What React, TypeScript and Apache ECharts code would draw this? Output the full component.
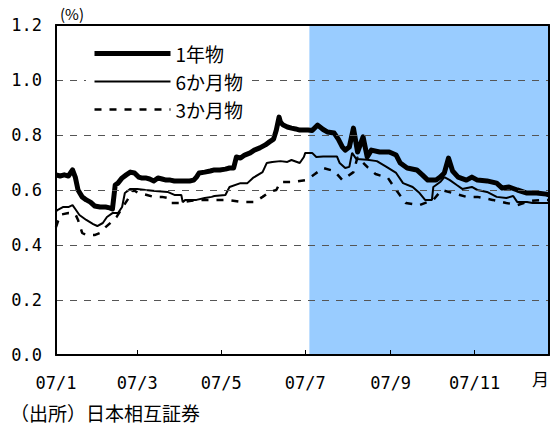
import React, { useEffect, useRef } from "react";
import * as echarts from "echarts";

// Daily categories: 2007-01-01 .. 2007-12-25
const categories: string[] = [];
for (let i = 0; i <= 358; i++) {
  const d = new Date(Date.UTC(2007, 0, 1 + i));
  categories.push(d.toISOString().slice(0, 10));
}

const seriesNames = ["1年物", "6か月物", "3か月物"];
const yTicks = [0, 0.2, 0.4, 0.6, 0.8, 1.0, 1.2];
const shadeStart = "2007-07-04";
const shadeEnd = "2007-12-25";

// [day index from Jan 1, yield %]
const oneYear: [number, number][] = [
  [0, 0.655], [3, 0.651], [6, 0.655], [9, 0.651], [12, 0.673], [14, 0.647], [16, 0.6],
  [19, 0.575], [22, 0.564], [25, 0.556], [28, 0.542], [32, 0.538], [36, 0.538], [39, 0.535],
  [41, 0.531], [43, 0.618], [45, 0.625], [48, 0.644], [51, 0.655], [54, 0.665], [57, 0.662],
  [60, 0.647], [62, 0.644], [65, 0.644], [68, 0.64], [71, 0.633], [74, 0.644], [77, 0.64],
  [80, 0.636], [83, 0.636], [86, 0.633], [90, 0.633], [94, 0.633], [97, 0.633], [100, 0.636],
  [102, 0.647], [104, 0.662], [108, 0.665], [112, 0.669], [115, 0.673], [119, 0.673],
  [123, 0.676], [126, 0.68], [129, 0.68], [131, 0.72], [134, 0.716], [137, 0.727],
  [141, 0.735], [144, 0.745], [148, 0.753], [152, 0.764], [155, 0.775], [158, 0.785],
  [160, 0.818], [162, 0.865], [163, 0.847], [165, 0.836], [168, 0.829], [171, 0.825],
  [174, 0.822], [177, 0.818], [180, 0.818], [183, 0.818], [186, 0.816], [190, 0.836],
  [194, 0.82], [197, 0.811], [202, 0.807], [205, 0.785], [208, 0.756], [210, 0.745],
  [213, 0.756], [216, 0.825], [219, 0.738], [223, 0.793], [226, 0.72], [229, 0.745],
  [235, 0.738], [242, 0.738], [247, 0.727], [250, 0.698], [255, 0.68], [262, 0.673],
  [266, 0.655], [270, 0.636], [274, 0.636], [276, 0.636], [279, 0.647], [282, 0.662],
  [285, 0.716], [288, 0.669], [292, 0.647], [298, 0.636], [302, 0.647], [306, 0.636],
  [313, 0.633], [320, 0.625], [324, 0.607], [329, 0.611], [335, 0.6], [342, 0.589],
  [349, 0.589], [356, 0.585], [358, 0.582],
];

const sixMonth: [number, number][] = [
  [0, 0.522], [1, 0.527], [5, 0.538], [9, 0.538], [12, 0.545], [14, 0.531], [17, 0.509],
  [22, 0.491], [27, 0.476], [30, 0.469], [34, 0.48], [37, 0.502], [41, 0.516], [45, 0.516],
  [48, 0.538], [50, 0.589], [54, 0.604], [59, 0.604], [65, 0.6], [72, 0.596], [81, 0.593],
  [86, 0.582], [91, 0.582], [92, 0.556], [94, 0.564], [102, 0.564], [108, 0.571],
  [113, 0.575], [115, 0.578], [123, 0.582], [126, 0.611], [134, 0.625], [139, 0.625],
  [143, 0.644], [150, 0.665], [153, 0.698], [157, 0.702], [163, 0.705], [168, 0.702],
  [171, 0.709], [177, 0.698], [180, 0.72], [181, 0.735], [186, 0.735], [189, 0.72],
  [194, 0.722], [204, 0.722], [206, 0.698], [210, 0.68], [213, 0.684], [215, 0.735],
  [218, 0.713], [226, 0.71], [233, 0.705], [240, 0.684], [247, 0.662], [252, 0.625],
  [259, 0.611], [264, 0.589], [268, 0.564], [273, 0.564], [274, 0.611], [279, 0.629],
  [282, 0.647], [286, 0.636], [291, 0.618], [295, 0.604], [302, 0.611], [306, 0.6],
  [313, 0.593], [320, 0.575], [327, 0.571], [332, 0.578], [335, 0.556], [342, 0.556],
  [346, 0.553], [358, 0.553],
];

const threeMonth: [number, number][] = [
  [0, 0.465], [3, 0.51], [9, 0.516], [14, 0.513], [16, 0.491], [19, 0.444], [22, 0.436],
  [28, 0.436], [32, 0.444], [36, 0.465], [41, 0.487], [44, 0.502], [52, 0.565], [56, 0.6],
  [60, 0.589], [66, 0.582], [71, 0.575], [77, 0.575], [81, 0.571], [83, 0.553], [90, 0.553],
  [97, 0.56], [104, 0.564], [113, 0.564], [119, 0.564], [124, 0.564], [130, 0.56],
  [135, 0.556], [139, 0.556], [144, 0.556], [150, 0.575], [155, 0.593], [160, 0.6],
  [163, 0.629], [168, 0.629], [172, 0.629], [177, 0.633], [181, 0.636], [183, 0.64],
  [188, 0.658], [194, 0.68], [202, 0.669], [208, 0.636], [216, 0.665], [219, 0.72],
  [226, 0.684], [232, 0.658], [241, 0.644], [247, 0.6], [254, 0.553], [264, 0.545],
  [274, 0.564], [280, 0.6], [288, 0.589], [298, 0.575], [306, 0.575], [317, 0.564],
  [327, 0.553], [335, 0.545], [344, 0.56], [353, 0.564], [358, 0.564],
];

const toSeries = (arr: [number, number][]) => arr.map(([d, v]) => [categories[d], v]);

const isLabelDay = (_i: number, v: string) =>
  v.endsWith("-01") && Number(v.slice(5, 7)) % 2 === 1;

const hiddenSymbol = { color: "rgba(0,0,0,0)", borderWidth: 0, opacity: 0 };

export default function App() {
  const ref = useRef<HTMLDivElement>(null);
  useEffect(() => {
    if (!ref.current) return;
    const chart = echarts.init(ref.current, undefined, { renderer: "svg" });
    const mono = "DejaVu Sans Mono";
    const jp = "Noto Sans CJK JP";
    chart.setOption({
      animation: false,
      backgroundColor: "#fff",
      grid: { left: 56, right: 3, top: 25, bottom: 77 },
      legend: {
        orient: "vertical",
        left: 86,
        top: 40,
        z: 6,
        backgroundColor: "#fff",
        padding: [4, 6, 4, 6],
        itemWidth: 76,
        itemHeight: 14,
        itemGap: 9,
        textStyle: { fontFamily: jp, fontSize: 19, color: "#000", lineHeight: 19 },
        data: [
          { name: seriesNames[0], itemStyle: hiddenSymbol, lineStyle: { width: 5, color: "#000", type: "solid" } },
          { name: seriesNames[1], itemStyle: hiddenSymbol, lineStyle: { width: 2, color: "#000", type: "solid" } },
          { name: seriesNames[2], itemStyle: hiddenSymbol, lineStyle: { width: 2.5, color: "#000", type: [7, 8] } },
        ],
      },
      xAxis: [
        {
          type: "category",
          data: categories,
          boundaryGap: false,
          z: 5,
          axisLine: { lineStyle: { color: "#000", width: 2 } },
          axisTick: { inside: true, length: 5, interval: isLabelDay, lineStyle: { color: "#000", width: 1 } },
          axisLabel: {
            interval: isLabelDay,
            margin: 19,
            fontFamily: mono,
            fontSize: 17,
            color: "#000",
            formatter: (v: string) => `${v.slice(2, 4)}/${Number(v.slice(5, 7))}`,
          },
          splitLine: { show: false },
        },
        {
          type: "value",
          position: "top",
          min: 0,
          max: 1,
          z: 5,
          axisLine: { show: true, onZero: false, lineStyle: { color: "#000", width: 2 } },
          axisTick: { show: false },
          axisLabel: { show: false },
          splitLine: { show: false },
        },
      ],
      yAxis: [
        {
          type: "value",
          min: yTicks[0],
          max: yTicks[yTicks.length - 1],
          interval: 0.2,
          z: 4,
          axisLine: { show: true, lineStyle: { color: "#000", width: 2 } },
          axisTick: { show: false },
          axisLabel: {
            margin: 14,
            fontFamily: mono,
            fontSize: 17,
            color: "#000",
            formatter: (v: number) => v.toFixed(1),
          },
          splitLine: { show: true, lineStyle: { color: "#555", width: 1.2, type: [7, 7] } },
        },
        {
          type: "value",
          position: "right",
          min: 0,
          max: 1.2,
          z: 5,
          axisLine: { show: true, onZero: false, lineStyle: { color: "#000", width: 2 } },
          axisTick: { show: false },
          axisLabel: { show: false },
          splitLine: { show: false },
        },
      ],
      series: [
        {
          name: seriesNames[0],
          type: "line",
          data: toSeries(oneYear),
          symbol: "none",
          lineStyle: { color: "#000", width: 5, join: "round" },
          itemStyle: { color: "#000" },
          markArea: {
            silent: true,
            itemStyle: { color: "#99ccff", opacity: 1 },
            data: [[{ xAxis: shadeStart }, { xAxis: shadeEnd }]],
          },
        },
        {
          name: seriesNames[1],
          type: "line",
          data: toSeries(sixMonth),
          symbol: "none",
          lineStyle: { color: "#000", width: 2 },
          itemStyle: { color: "#000" },
        },
        {
          name: seriesNames[2],
          type: "line",
          data: toSeries(threeMonth),
          symbol: "none",
          lineStyle: { color: "#000", width: 2.5, type: [7, 8] },
          itemStyle: { color: "#000" },
        },
      ],
      graphic: [
        { type: "text", left: 60, top: 6, style: { text: "(%)", fontFamily: jp, fontSize: 15, fill: "#000" } },
        { type: "text", left: 532, top: 370, style: { text: "月", fontFamily: jp, fontSize: 17, fill: "#000" } },
        { type: "text", left: 10, top: 403, style: { text: "（出所）日本相互証券", fontFamily: jp, fontSize: 19, fill: "#000" } },
      ],
    });
    return () => chart.dispose();
  }, []);
  return <div ref={ref} style={{ width: 552, height: 432, position: "absolute", left: 0, top: 0 }} />;
}
